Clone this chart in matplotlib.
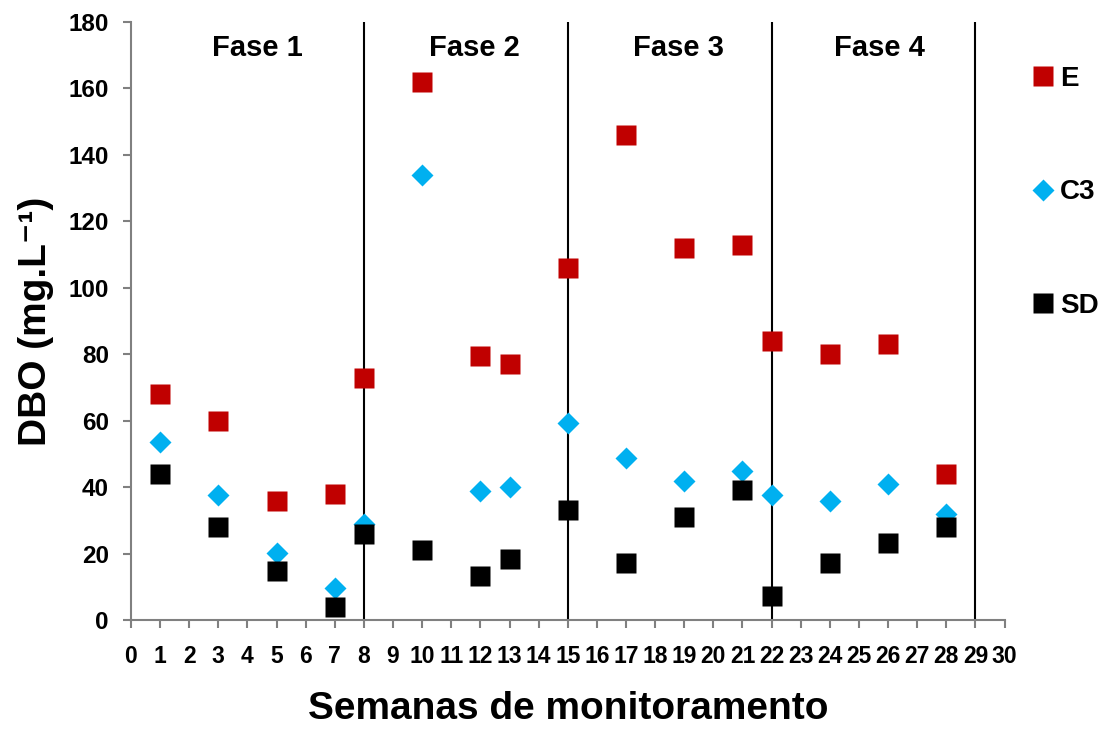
import matplotlib.pyplot as plt

plt.rcParams['font.family'] = ['Liberation Sans', 'DejaVu Sans']
plt.rcParams['font.weight'] = 'bold'

semanas = [1, 3, 5, 7, 8, 10, 12, 13, 15, 17, 19, 21, 22, 24, 26, 28]
dbo_e = [68, 60, 36, 38, 73, 162, 79.5, 77, 106, 146, 112, 113, 84, 80, 83, 44]
dbo_c3 = [53.5, 37.7, 20.2, 9.8, 29, 133.8, 39, 40, 59.5, 48.8, 42, 45, 37.7, 36, 41, 32]
dbo_sd = [44, 28.2, 15, 4.1, 26, 21.2, 13.4, 18.6, 33.3, 17.2, 31.2, 39.2, 7.4, 17.2, 23.2, 28.2]

limites_fase = [8, 15, 22, 29]
fases = ['Fase 1', 'Fase 2', 'Fase 3', 'Fase 4']
pos_fase = [4.35, 11.8, 18.8, 25.7]

fig = plt.figure(figsize=(11.1, 7.29), dpi=100)
ax = fig.add_axes([0.118, 0.149, 0.787, 0.821])

for x in limites_fase:
    ax.axvline(x, color='black', lw=1.5, zorder=1)

ax.plot(semanas, dbo_e, 's', color='#c00000', ms=14.5, mec='none', label='E', zorder=3)
ax.plot(semanas, dbo_c3, 'D', color='#00b0f0', ms=11, mec='none', label='C3', zorder=3)
ax.plot(semanas, dbo_sd, 's', color='black', ms=14.5, mec='none', label='SD', zorder=4)

for nome, xp in zip(fases, pos_fase):
    ax.text(xp, 172, nome, ha='center', va='center', fontsize=21, fontweight='bold')

ax.set_xlim(0, 30)
ax.set_ylim(0, 180)
ax.set_xticks(range(0, 31))
ax.set_yticks(range(0, 181, 20))
ax.tick_params(axis='both', colors='#808080', labelcolor='black', labelsize=17.5, length=6, width=1.5)
ax.tick_params(axis='x', pad=12, labelsize=16.5)
ax.tick_params(axis='y', pad=10)
for lado in ['top', 'right']:
    ax.spines[lado].set_visible(False)
for lado in ['left', 'bottom']:
    ax.spines[lado].set_color('#808080')
    ax.spines[lado].set_linewidth(1.5)

ax.set_xlabel('Semanas de monitoramento', fontsize=28, fontweight='bold', labelpad=16)
ax.set_ylabel('DBO (mg.L\u207b\u00b9)', fontsize=28, fontweight='bold', labelpad=10)

leg = ax.legend(loc='upper left', bbox_to_anchor=(1.022, 0.945), frameon=False, fontsize=20,
                handlelength=0.6, handletextpad=0.3, labelspacing=3.15, borderaxespad=0)

plt.savefig('out.png', dpi=100)
plt.close()
